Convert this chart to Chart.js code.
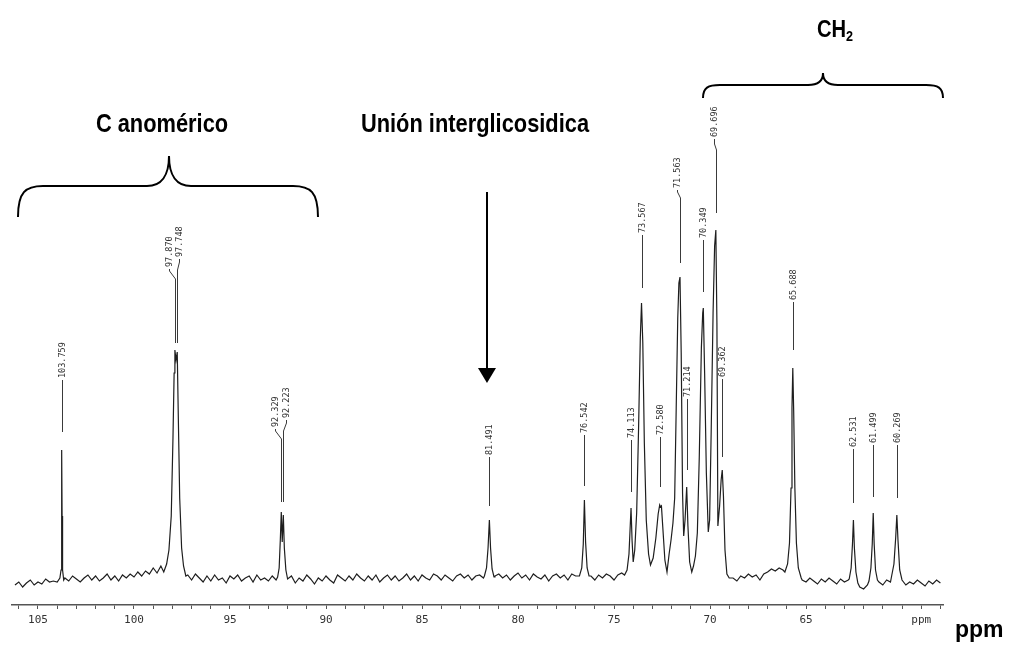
<!DOCTYPE html>
<html><head><meta charset="utf-8">
<script src="https://cdn.jsdelivr.net/npm/chart.js@4.4.1/dist/chart.umd.min.js"></script>
<style>html,body{margin:0;padding:0;background:#fff;}canvas{display:block;}</style>
</head><body>
<canvas id="c" width="1021" height="654"></canvas>
<script>
// ---------- DATA ----------
// x axis: chemical shift in ppm (reversed), major tick labels
const majorTicks = [105, 100, 95, 90, 85, 80, 75, 70, 65];
const unitTickValue = 59;
const unitTickText = 'ppm';

// peak positions and their printed labels
const peakPpm = [103.759, 97.870, 97.748, 92.329, 92.223, 81.491, 76.542, 74.113, 73.567,
                 72.580, 71.563, 71.214, 70.349, 69.696, 69.362, 65.688, 62.531, 61.499, 60.269];
const peakLabels = ['103.759', '97.870', '97.748', '92.329', '92.223', '81.491', '76.542', '74.113', '73.567',
                    '72.580', '71.563', '71.214', '70.349', '69.696', '69.362', '65.688', '62.531', '61.499', '60.269'];

// baseline noise, intensity on a 0.2 ppm sampling grid starting at 106.2 ppm
const baselineStartPpm = 106.2;
const baselineStepPpm = 0.2;
const baselineNoise = [
  -7,-4,-9,-5,-2,-7,-4,-6,-1,-4,
  -3,-4,-1,0,-3,2,-1,-4,0,3,
  -2,2,-3,0,4,-2,2,-3,3,0,
  4,1,6,2,7,4,10,5,12,8,
  0,0,0,0,0,3,-2,4,0,-4,
  2,-3,3,-2,0,-5,2,-1,3,-3,
  0,2,-4,3,-2,0,-3,2,-2,0,
  0,-3,2,-5,0,-3,3,-1,-6,0,
  -3,2,-2,-5,3,0,-3,2,-2,4,
  0,-3,2,-2,3,-4,0,3,-2,2,
  -3,0,4,-2,2,-3,3,0,-2,4,
  2,-2,3,0,-3,2,4,0,3,-2,
  2,3,0,0,0,2,4,0,3,-2,
  2,5,0,3,-2,4,1,-1,3,-3,
  2,4,0,3,-2,4,2,3,0,0,
  2,-2,3,0,4,2,-2,3,5,0,
  0,0,0,0,0,0,0,0,0,0,
  0,0,0,0,0,0,0,0,0,0,
  0,0,0,0,0,0,0,0,-3,2,
  0,4,1,3,-2,4,6,9,7,10,
  8,0,0,0,0,-2,-4,0,-3,-6,
  -1,-4,0,-3,-6,-1,-4,-2,0,0,
  -9,-11,-7,0,0,-4,-7,-2,-4,0,
  0,0,-7,-4,-6,-2,-5,-8,-3,-6,
  -2,-5
];

// peak profiles: [ppm, intensity]
const peak103 = [[103.86,0],[103.80,8],[103.775,60],[103.759,128],[103.745,62],[103.72,8],[103.66,-2]];
const peak97 = [[98.45,6],[98.3,14],[98.18,28],[98.06,62],[97.97,140],[97.91,205],[97.870,228],[97.81,218],
                 [97.748,226],[97.70,170],[97.62,80],[97.52,30],[97.42,12],[97.3,2]];
const peak92 = [[92.52,1],[92.44,10],[92.38,38],[92.329,66],[92.28,36],[92.223,63],[92.17,30],[92.09,8],[92.0,-1]];
const peak81 = [[81.75,2],[81.64,10],[81.56,30],[81.491,58],[81.43,30],[81.35,9],[81.25,1]];
const peak76 = [[76.8,2],[76.68,10],[76.6,34],[76.542,78],[76.48,36],[76.4,10],[76.3,2]];
const cluster74to69 = [
  [74.45,3],[74.32,8],[74.22,24],[74.16,50],[74.113,70],[74.06,38],[74.0,16],[73.92,28],[73.82,65],
  [73.72,150],[73.63,240],[73.567,275],[73.5,235],[73.42,135],[73.32,58],[73.2,24],[73.1,13],
  [72.96,20],[72.82,40],[72.7,64],[72.62,73],[72.58,71],[72.53,72],[72.45,48],[72.35,18],[72.24,6],
  [72.13,24],[72.03,38],[71.93,55],[71.84,80],[71.76,170],[71.68,260],[71.62,295],[71.563,301],
  [71.5,225],[71.43,85],[71.37,42],[71.3,58],[71.214,91],[71.15,52],[71.06,16],[70.95,6],
  [70.86,12],[70.76,22],[70.66,45],[70.56,120],[70.45,230],[70.38,265],[70.349,270],[70.28,205],
  [70.19,105],[70.09,46],[70.02,58],[69.94,145],[69.84,265],[69.76,332],[69.696,348],[69.64,255],
  [69.59,52],[69.5,72],[69.42,98],[69.362,108],[69.3,82],[69.22,28],[69.12,4],[69.0,0]
];
const peak65 = [[66.1,6],[65.96,14],[65.86,35],[65.78,90],[65.73,170],[65.688,210],[65.64,165],[65.58,90],
                [65.5,35],[65.4,10],[65.25,0]];
const peak62 = [[62.75,-1],[62.65,10],[62.58,34],[62.531,58],[62.48,30],[62.4,6],[62.3,-5]];
const peak61 = [[61.72,-3],[61.62,10],[61.55,34],[61.499,65],[61.45,34],[61.38,8],[61.28,-2]];
const peak60 = [[60.55,1],[60.42,14],[60.33,40],[60.269,63],[60.21,38],[60.12,8],[60.0,-2]];

// ---------- build trace from the arrays ----------
const peakProfiles = [peak103, peak97, peak92, peak81, peak76, cluster74to69, peak65, peak62, peak61, peak60];
const tracePts = [];
baselineNoise.forEach((v, i) => {
  const p = +(baselineStartPpm - i * baselineStepPpm).toFixed(3);
  const inside = peakProfiles.some(pr => p <= pr[0][0] + 1e-6 && p >= pr[pr.length - 1][0] - 1e-6);
  if (!inside) tracePts.push({x: p, y: v});
});
peakProfiles.forEach(pr => pr.forEach(([p, v]) => tracePts.push({x: p, y: v})));
tracePts.sort((a, b) => b.x - a.x);

// ---------- annotation layout (in axis units: ppm / intensity) ----------
// tb = text bottom, bt/bb = leader bend top/bottom, le = leader end, lx = text column
const labelLayout = [
  {i:0,  lx:103.759, tb:200, le:146},
  {i:1,  lx:98.177, tb:311, bt:307, bb:299, le:235},
  {i:2,  lx:97.656, tb:321, bt:316, bb:308, le:235},
  {i:3,  lx:92.656, tb:151, bt:147, bb:139, le:76},
  {i:4,  lx:92.083, tb:160, bt:155, bb:147, le:76},
  {i:5,  tb:123, le:72},
  {i:6,  tb:145, le:92},
  {i:7,  tb:140, le:86},
  {i:8,  tb:345, le:290},
  {i:9,  tb:143, le:91},
  {i:10, lx:71.719, tb:390, bt:386, bb:380, le:315},
  {i:11, tb:181, le:108},
  {i:12, tb:340, le:286},
  {i:13, lx:69.792, tb:441, bt:434, bb:428, le:365},
  {i:14, tb:201, le:121},
  {i:15, tb:278, le:228},
  {i:16, tb:131, le:75},
  {i:17, tb:135, le:81},
  {i:18, tb:135, le:80}
];
const groupTexts = [
  {text:'C anomérico', ppm:98.54, v:446},
  {text:'Unión interglicosidica', ppm:82.24, v:446}
];
const ch2Text = {main:'CH', sub:'2', ppm:63.49, v:541};
const braces = [
  {x1:106.042, x2:90.417, xm:98.177, yE:361, yB:392, yT:422, c:25, h:22},
  {x1:70.365, x2:57.865, xm:64.115, yE:480, yB:493, yT:505, c:17, h:15}
];
const arrow = {ppm:81.615, from:386, headBase:210, tip:195};
const unitTitle = {text:'ppm', ppm:57.24, v:-59};

const TITLE_FAMILY = '"Liberation Sans", Arial, sans-serif';
const NARROW = 0.84;

function narrowText(ctx, text, x, y, size, align) {
  ctx.save();
  ctx.font = 'bold ' + size + 'px ' + TITLE_FAMILY;
  ctx.textBaseline = 'alphabetic';
  ctx.textAlign = 'left';
  const w = ctx.measureText(text).width * NARROW;
  const x0 = align === 'center' ? x - w / 2 : x;
  ctx.translate(x0, y);
  ctx.scale(NARROW, 1);
  ctx.fillText(text, 0, 0);
  ctx.restore();
  return w;
}

const annotPlugin = {
  id: 'annot',
  afterDatasetsDraw(chart) {
    const {ctx, scales: {x, y}} = chart;
    const X = v => x.getPixelForValue(v), Y = v => y.getPixelForValue(v);
    const r = v => Math.round(v) + 0.5;
    ctx.save();
    // peak labels and leaders
    ctx.strokeStyle = '#3a3a3a';
    ctx.lineWidth = 1;
    labelLayout.forEach(L => {
      const peak = peakPpm[L.i];
      const lx = r(X(L.lx != null ? L.lx : peak)), px = r(X(peak));
      ctx.beginPath();
      ctx.moveTo(lx, Y(L.tb) + 2);
      if (L.bt != null) { ctx.lineTo(lx, Y(L.bt)); ctx.lineTo(px, Y(L.bb)); }
      ctx.lineTo(px, Y(L.le));
      ctx.stroke();
      ctx.save();
      ctx.translate(lx, Y(L.tb));
      ctx.rotate(-Math.PI / 2);
      ctx.font = '8.5px "DejaVu Sans Mono", monospace';
      ctx.fillStyle = '#333';
      ctx.textAlign = 'left';
      ctx.textBaseline = 'middle';
      ctx.fillText(peakLabels[L.i], 0, 0);
      ctx.restore();
    });
    // braces
    ctx.strokeStyle = '#000';
    ctx.lineWidth = 2;
    braces.forEach(b => {
      const x1 = X(b.x1), x2 = X(b.x2), xm = X(b.xm), yE = Y(b.yE), yB = Y(b.yB), yT = Y(b.yT);
      ctx.beginPath();
      ctx.moveTo(x1, yE);
      ctx.bezierCurveTo(x1, yB + (yE - yB) * 0.2, x1 + b.c * 0.3, yB, x1 + b.c, yB);
      ctx.lineTo(xm - b.h, yB);
      ctx.bezierCurveTo(xm - b.h * 0.35, yB, xm, yB - (yB - yT) * 0.35, xm, yT);
      ctx.bezierCurveTo(xm, yB - (yB - yT) * 0.35, xm + b.h * 0.35, yB, xm + b.h, yB);
      ctx.lineTo(x2 - b.c, yB);
      ctx.bezierCurveTo(x2 - b.c * 0.3, yB, x2, yB + (yE - yB) * 0.2, x2, yE);
      ctx.stroke();
    });
    // arrow
    const ax = X(arrow.ppm);
    ctx.beginPath();
    ctx.moveTo(ax, Y(arrow.from));
    ctx.lineTo(ax, Y(arrow.headBase));
    ctx.stroke();
    ctx.fillStyle = '#000';
    ctx.beginPath();
    ctx.moveTo(ax - 9, Y(arrow.headBase));
    ctx.lineTo(ax + 9, Y(arrow.headBase));
    ctx.lineTo(ax, Y(arrow.tip));
    ctx.closePath();
    ctx.fill();
    // group titles
    groupTexts.forEach(g => narrowText(ctx, g.text, X(g.ppm), Y(g.v), 26, 'center'));
    // CH2 with subscript
    ctx.font = 'bold 24px ' + TITLE_FAMILY;
    const wMain = ctx.measureText(ch2Text.main).width * NARROW;
    ctx.font = 'bold 15px ' + TITLE_FAMILY;
    const wSub = ctx.measureText(ch2Text.sub).width * NARROW;
    const cx = X(ch2Text.ppm) - (wMain + wSub) / 2;
    narrowText(ctx, ch2Text.main, cx, Y(ch2Text.v), 24, 'left');
    narrowText(ctx, ch2Text.sub, cx + wMain, Y(ch2Text.v) + 4, 15, 'left');
    // big unit title
    ctx.font = 'bold 23px ' + TITLE_FAMILY;
    ctx.textAlign = 'left';
    ctx.textBaseline = 'alphabetic';
    ctx.fillText(unitTitle.text, X(unitTitle.ppm), Y(unitTitle.v));
    ctx.restore();
  }
};

new Chart(document.getElementById('c'), {
  type: 'line',
  data: {
    datasets: [{
      data: tracePts,
      borderColor: '#1e1e1e',
      borderWidth: 1.2,
      pointRadius: 0,
      tension: 0,
      fill: false
    }]
  },
  options: {
    responsive: false,
    animation: false,
    layout: {padding: {left: 12, right: 78, top: 20, bottom: 19}},
    plugins: {legend: {display: false}, tooltip: {enabled: false}},
    scales: {
      x: {
        type: 'linear',
        reverse: true,
        min: 57.865,
        max: 106.354,
        afterFit: s => { s.height = 30; },
        grid: {drawOnChartArea: false, drawTicks: true, tickLength: 4, tickColor: '#555', tickWidth: 1},
        border: {display: true, color: '#555', width: 1.5},
        ticks: {
          stepSize: 1,
          includeBounds: false,
          autoSkip: false,
          maxRotation: 0,
          padding: 5,
          color: '#333',
          font: {family: '"DejaVu Sans Mono", monospace', size: 11},
          callback: v => majorTicks.includes(v) ? String(v) : (v === unitTickValue ? unitTickText : '')
        }
      },
      y: {display: false, min: -27, max: 558}
    }
  },
  plugins: [annotPlugin]
});
</script>
</body></html>
